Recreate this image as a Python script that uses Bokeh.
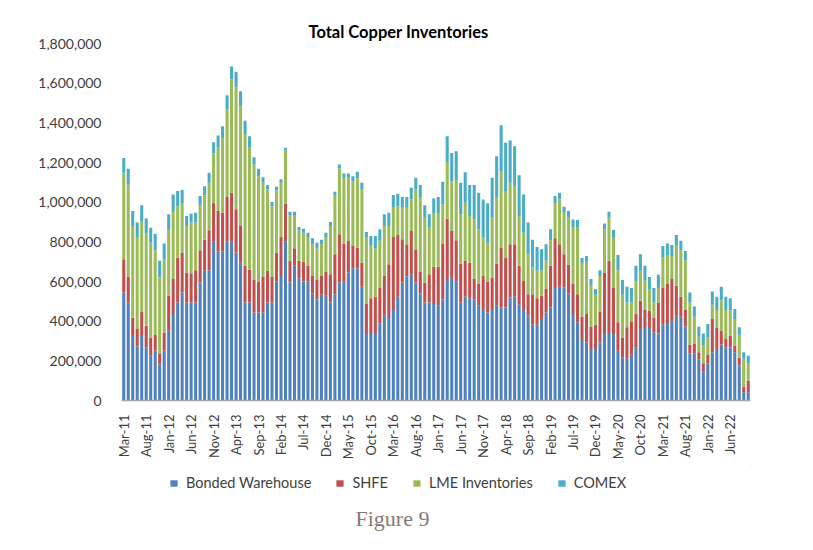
import math
import pandas as pd
from bokeh.plotting import figure
from bokeh.layouts import column
from bokeh.models import (ColumnDataSource, FixedTicker, NumeralTickFormatter,
                          Legend, LegendItem, Range1d, Div, CDSView, IndexFilter)
from bokeh.embed import file_html
from bokeh.resources import INLINE

# ---- data (thousand tonnes) ----
months = [d.strftime("%b-%y") for d in pd.date_range("2011-03-01", periods=140, freq="MS")]

bonded = [545,494,330,272,330,268,226,251,181,251,352,436,494,545,494,494,494,595,654,657,800,751,
          751,800,800,746,695,494,494,444,444,444,494,494,600,628,800,595,679,617,600,600,541,511,533,
          528,494,536,595,600,645,667,667,573,335,335,335,389,427,416,456,523,595,625,637,595,540,494,494,
          486,478,511,612,623,600,494,523,516,511,478,461,444,456,478,469,469,519,523,483,461,427,382,
          382,411,444,469,567,573,570,540,436,394,305,293,260,260,293,335,335,335,251,215,210,231,268,360,
          366,366,343,338,382,386,402,427,422,372,238,238,205,147,188,243,260,282,268,268,243,176,42,42]

shfe = [167,131,89,88,119,109,92,81,54,92,176,176,226,201,151,148,163,163,156,201,197,204,
        196,226,247,218,185,185,165,163,154,181,160,129,146,198,192,109,89,87,100,79,87,97,95,
        122,143,202,243,191,160,112,104,122,154,181,188,181,201,271,369,312,218,159,218,168,110,101,143,
        188,196,280,306,232,208,196,181,179,101,112,167,156,164,212,302,249,269,265,196,142,109,154,
        134,117,121,210,251,215,168,144,151,142,117,143,112,122,156,310,369,232,143,100,159,168,171,143,
        90,87,76,156,188,201,210,151,101,84,44,47,38,41,43,168,106,70,42,59,34,39,28,59]

lme = [436,465,461,465,456,464,478,426,385,369,330,343,260,246,235,255,240,227,224,240,248,322,
       377,441,571,615,603,665,615,583,533,473,410,357,313,272,268,231,167,154,146,142,160,160,160,
       171,243,298,332,332,318,327,349,372,332,268,245,235,252,193,147,145,159,188,159,301,372,327,234,
       268,268,198,285,251,302,249,293,235,301,273,193,196,302,336,382,338,310,293,251,243,202,134,
       138,129,142,129,174,226,209,241,288,339,268,264,206,151,179,218,218,258,263,218,125,95,164,151,
       151,109,75,73,150,147,117,206,235,251,212,137,79,89,87,72,90,154,146,126,134,117,140,87]

comex = [75,78,75,72,80,77,75,83,84,79,81,84,76,69,50,45,50,46,46,50,57,59,
         59,72,66,77,76,67,58,37,37,28,22,21,19,17,14,17,17,17,20,25,30,28,22,
         25,20,16,20,22,22,25,33,31,29,46,62,58,59,67,64,62,54,54,59,59,64,63,68,
         77,84,114,129,142,147,159,154,156,173,184,193,198,201,206,235,243,213,201,206,193,159,140,
         120,106,81,55,39,33,30,30,38,35,28,29,34,29,29,29,30,35,77,74,79,73,76,84,
         72,61,73,67,59,57,55,51,47,47,51,52,50,61,68,67,67,67,67,63,50,37,33,38]

series_names = ["Bonded Warehouse", "SHFE", "LME Inventories", "COMEX"]
colors = ["#4F81BD", "#C0504D", "#9BBB59", "#4BACC6"]

tick_labels = ["Mar-11","Aug-11","Jan-12","Jun-12","Nov-12","Apr-13","Sep-13","Feb-14","Jul-14",
               "Dec-14","May-15","Oct-15","Mar-16","Aug-16","Jan-17","Jun-17","Nov-17","Apr-18",
               "Sep-18","Feb-19","Jul-19","Dec-19","May-20","Oct-20","Mar-21","Aug-21","Jan-22","Jun-22"]

y_ticks = [0, 200000, 400000, 600000, 800000, 1000000, 1200000, 1400000, 1600000, 1800000]

# ---- build ----
src = ColumnDataSource(dict(
    x=list(range(len(months))),
    month=months,
    b=[v * 1000 for v in bonded],
    s=[v * 1000 for v in shfe],
    l=[v * 1000 for v in lme],
    c=[v * 1000 for v in comex],
))

FONT = "Lato"
TXT = "#404040"
W = 805

p = figure(width=W, height=465, output_backend="svg", toolbar_location=None,
           x_range=Range1d(-0.5, len(months) - 0.5), y_range=Range1d(0, 1800000),
           min_border_left=121, min_border_right=55, min_border_top=43, min_border_bottom=65)

p.vbar_stack(["b", "s", "l", "c"], x="x", width=0.68, color=colors,
             line_color=None, source=src)

p.outline_line_color = None
p.xgrid.grid_line_color = None
p.ygrid.grid_line_color = None
p.background_fill_color = "white"
p.border_fill_color = "white"

# x axis
xa = p.xaxis[0]
xa.ticker = FixedTicker(ticks=[months.index(t) for t in tick_labels])
xa.major_label_overrides = {months.index(t): t for t in tick_labels}
xa.major_label_orientation = math.pi / 2
xa.major_tick_line_color = None
xa.minor_tick_line_color = None
xa.axis_line_color = "#A6A6A6"
xa.axis_line_width = 1.5
xa.major_label_text_font = FONT
xa.major_label_text_font_size = "13px"
xa.major_label_text_color = TXT
xa.major_label_standoff = 8

# y axis
ya = p.yaxis[0]
ya.ticker = FixedTicker(ticks=y_ticks)
ya.formatter = NumeralTickFormatter(format="0,0")
ya.axis_line_color = None
ya.major_tick_line_color = None
ya.minor_tick_line_color = None
ya.major_label_text_font = FONT
ya.major_label_text_font_size = "14px"
ya.major_label_text_color = TXT
ya.major_label_standoff = 14

# title
p.title.text = "Total Copper Inventories"
p.title.text_font = FONT
p.title.text_font_size = "16.5px"
p.title.text_font_style = "bold"
p.title.text_color = "#000000"
p.title.align = "left"
p.title.offset = 187
p.title.standoff = 4

# legend strip: a small figure whose frame is the whole strip; its stacked bars share
# the data source but lie outside the strip's ranges, so only the key shows
lg = figure(width=W, height=35, output_backend="svg", toolbar_location=None,
            x_axis_type=None, y_axis_type=None,
            x_range=Range1d(-1000, -999), y_range=Range1d(-2, -1),
            min_border_left=0, min_border_right=0, min_border_top=0, min_border_bottom=0)
lg.outline_line_color = None
lg.xgrid.grid_line_color = None
lg.ygrid.grid_line_color = None
key_renderers = lg.vbar_stack(["b", "s", "l", "c"], x="x", width=0.68, color=colors,
                              line_color=None, source=src,
                              view=CDSView(filter=IndexFilter([0])))
legend = Legend(items=[LegendItem(label=n, renderers=[r]) for n, r in zip(series_names, key_renderers)],
                orientation="horizontal", location=(48, 9),
                border_line_color=None, background_fill_alpha=0,
                label_text_font=FONT, label_text_font_size="14.5px", label_text_color=TXT,
                glyph_width=9, glyph_height=8, label_standoff=8, spacing=24,
                padding=0, margin=0)
lg.add_layout(legend, "center")

cap = Div(text="Figure 9", width=W, height=40, margin=(0, 0, 0, 0),
          styles={"text-align": "center", "font-family": "Liberation Serif",
                  "font-size": "22px", "color": "#857A73", "padding-right": "20px",
                  "box-sizing": "border-box", "width": f"{W}px", "line-height": "38px"})

layout = column(p, lg, cap, spacing=0)
open("out.html", "w").write(file_html(layout, INLINE))
